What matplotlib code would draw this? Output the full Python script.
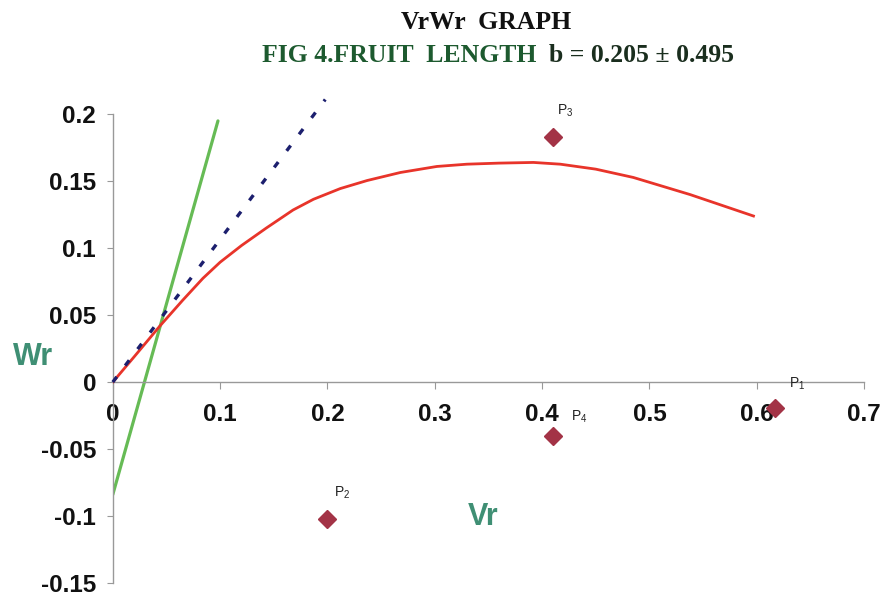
import matplotlib
matplotlib.use("Agg")
import matplotlib.pyplot as plt

# Regression (Wr on Vr) curve, sampled along its course
curve_vr = [0.0, 0.020, 0.044, 0.065, 0.084, 0.100, 0.120, 0.143, 0.168, 0.187,
            0.212, 0.237, 0.268, 0.302, 0.330, 0.360, 0.392, 0.417, 0.450, 0.485,
            0.538, 0.597]
curve_wr = [0.0, 0.019, 0.042, 0.061, 0.0775, 0.0895, 0.102, 0.115, 0.1285, 0.1365,
            0.1445, 0.1505, 0.1565, 0.161, 0.1627, 0.1635, 0.164, 0.1627, 0.159, 0.1528,
            0.140, 0.124]

# Unit-slope limiting line and the steep fitted line
limit_vr = [0.0, 0.198]
limit_wr = [0.0, 0.211]
fit_vr = [0.0, 0.098]
fit_wr = [-0.084, 0.195]

# Parental array points
parent_names = ["P1", "P2", "P3", "P4"]
parent_vr = [0.617, 0.200, 0.410, 0.410]
parent_wr = [-0.019, -0.102, 0.183, -0.040]
parent_label_offsets = [(10, 11), (5, 13), (3, 13), (13, 8)]

x_ticks = [0, 0.1, 0.2, 0.3, 0.4, 0.5, 0.6, 0.7]
x_tick_labels = ["0", "0.1", "0.2", "0.3", "0.4", "0.5", "0.6", "0.7"]
y_ticks = [-0.15, -0.1, -0.05, 0, 0.05, 0.1, 0.15, 0.2]
y_tick_labels = ["-0.15", "-0.1", "-0.05", "0", "0.05", "0.1", "0.15", "0.2"]

plt.rcParams["font.family"] = ["Liberation Sans", "DejaVu Sans"]

fig = plt.figure(figsize=(8.88, 5.98), dpi=100)
ax = fig.add_axes([0.127, 0.025, 0.846, 0.784])

ax.plot(fit_vr, fit_wr, color="#66bb55", lw=2.3, solid_capstyle="round", zorder=2)
ax.plot(curve_vr, curve_wr, color="#e8342a", lw=2.0, zorder=3)
ax.plot(limit_vr, limit_wr, color="#1c1f6e", lw=2.4, ls=(0, (2.0, 4.2)),
        clip_on=False, zorder=4)

ax.plot(parent_vr, parent_wr, ls="none", marker="D", markersize=9.5,
        color="#a33346", zorder=5)
for name, vx, wy, off in zip(parent_names, parent_vr, parent_wr, parent_label_offsets):
    ax.annotate(r"$\mathregular{P_{%s}}$" % name[1:], (vx, wy), xytext=off,
                textcoords="offset points", fontsize=10, color="#222222",
                ha="left", va="bottom")

ax.set_xlim(0, 0.7)
ax.set_ylim(-0.15, 0.2)
ax.spines["top"].set_visible(False)
ax.spines["right"].set_visible(False)
ax.spines["bottom"].set_position(("data", 0))
for side in ("left", "bottom"):
    ax.spines[side].set_color("#999999")
    ax.spines[side].set_linewidth(1.0)

ax.set_xticks(x_ticks)
ax.set_xticklabels(x_tick_labels)
ax.set_yticks(y_ticks)
ax.set_yticklabels(y_tick_labels)
ax.tick_params(axis="x", direction="out", length=5, color="#999999", pad=10,
               labelsize=17.5)
ax.tick_params(axis="y", direction="out", length=4, color="#999999", pad=8,
               labelsize=17.5)
for lab in ax.get_xticklabels() + ax.get_yticklabels():
    lab.set_fontweight("bold")
    lab.set_color("#111111")

# Axis names
fig.text(0.015, 0.403, "Wr", fontsize=22, fontweight="bold", color="#3f8f74",
         ha="left", va="center")
fig.text(0.527, 0.135, "Vr", fontsize=22, fontweight="bold", color="#3f8f74",
         ha="left", va="center")

# Titles
fig.text(0.547, 0.963, "VrWr  GRAPH", fontsize=18.5, fontweight="bold",
         family="Liberation Serif", color="#111111", ha="center", va="center")
t1 = fig.text(0.295, 0.908, "FIG 4.FRUIT  LENGTH  ", fontsize=18.5,
              fontweight="bold", family="Liberation Serif", color="#1d5a2f",
              ha="left", va="center")
fig.canvas.draw()
bb = t1.get_window_extent()
fig.text(bb.x1 / fig.bbox.width, 0.908, "b = 0.205 \u00b1 0.495", fontsize=18.5,
         fontweight="bold", family="Liberation Serif", color="#1a2e1e",
         ha="left", va="center")

fig.savefig("out.png", dpi=100, facecolor="white")
